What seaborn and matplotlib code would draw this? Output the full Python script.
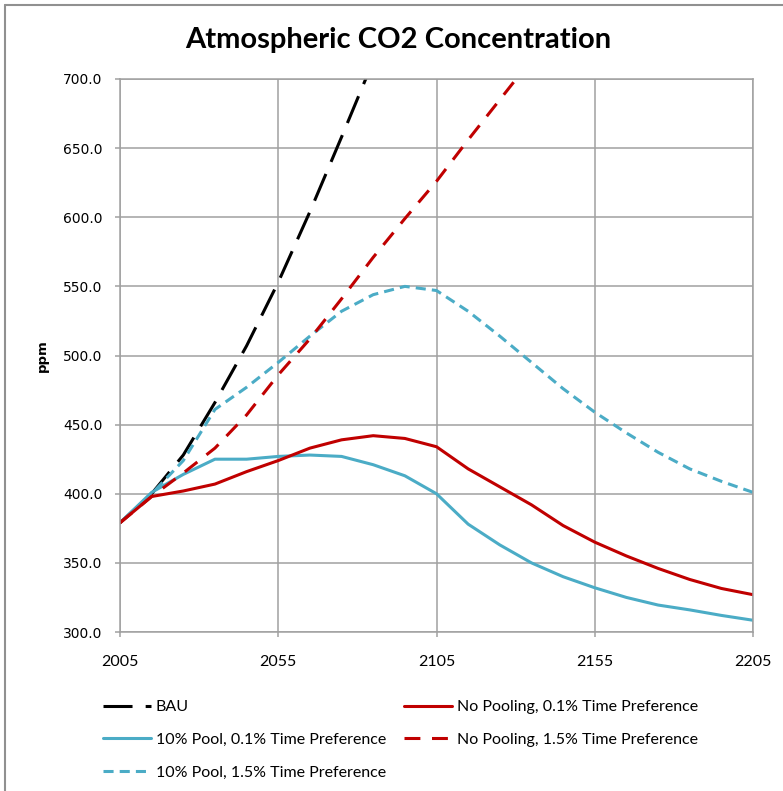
import matplotlib
matplotlib.use("Agg")
import matplotlib.pyplot as plt
import seaborn as sns
import pandas as pd
import numpy as np
from matplotlib.lines import Line2D

years = list(range(2005, 2206, 10))
bau = [379, 400, 428, 466, 507, 553, 604, 658, 713, 770]
nopool_01 = [379, 398, 402, 407, 416, 424, 433, 439, 442, 440, 434, 418, 405, 392, 377, 365, 355, 346, 338, 331.5, 327]
pool10_01 = [379, 401, 414, 425, 425, 427, 428, 427, 421, 413, 400, 378, 363, 350, 340, 332, 325, 319.5, 316, 312, 308.5]
nopool_15 = [379, 398, 415, 433, 457, 486, 512, 541, 571, 599, 626, 656, 685, 714, 743]
pool10_15 = [379, 400, 424, 461, 477, 495, 514, 532, 544, 550, 547, 532, 514, 495, 476, 459, 444, 430, 418, 409, 401]

labels = ["BAU",
          "10% Pool, 0.1% Time Preference",
          "10% Pool, 1.5% Time Preference",
          "No Pooling, 0.1% Time Preference",
          "No Pooling, 1.5% Time Preference"]
series = [bau, pool10_01, pool10_15, nopool_01, nopool_15]

rows = []
for lab, vals in zip(labels, series):
    for y, v in zip(years, vals):
        rows.append({"year": y, "ppm": v, "series": lab})
df = pd.DataFrame(rows)

BLUE = "#4BACC6"
RED = "#C00000"
palette = {labels[0]: "black", labels[1]: BLUE, labels[2]: BLUE,
           labels[3]: RED, labels[4]: RED}
dashes = {labels[0]: (9.5, 4.3), labels[1]: "", labels[2]: (3.3, 2.0),
          labels[3]: "", labels[4]: (5.2, 3.8)}

sns.set_theme(style="white")
plt.rcParams["font.family"] = ["DejaVu Sans"]
for k in ["text.color", "axes.labelcolor", "xtick.color", "ytick.color"]:
    plt.rcParams[k] = "black"

NARROW = ["Lato", "DejaVu Sans"]

fig = plt.figure(figsize=(7.83, 7.91), dpi=100)
ax = fig.add_axes([120/783, 1-632/791, (753-120)/783, (632-79)/791])

sns.lineplot(data=df, x="year", y="ppm", hue="series", style="series",
             palette=palette, dashes=dashes, linewidth=2.2, ax=ax,
             legend=False, sort=False)
for ln in ax.get_lines():
    ln.set_dash_capstyle("butt")
    ln.set_solid_capstyle("round")

ax.set_xlim(2005, 2205)
ax.set_ylim(300, 700)
ax.set_xticks([2005, 2055, 2105, 2155, 2205])
ax.set_yticks(np.arange(300, 701, 50))
ax.set_yticklabels([f"{v:.1f}" for v in np.arange(300, 701, 50)])
ax.grid(True, color="#A0A0A0", linewidth=1.1)
for s in ax.spines.values():
    s.set_color("#A0A0A0")
    s.set_linewidth(1.1)
ax.tick_params(axis="both", which="major", length=3.6, width=1.1,
               direction="out", left=True, bottom=True)
ax.tick_params(axis="both", color="#A0A0A0")
ax.tick_params(axis="y", labelsize=10, pad=9)
for t in ax.get_xticklabels():
    t.set_fontfamily(NARROW)
    t.set_fontsize(11.5)
ax.tick_params(axis="x", pad=13)
ax.set_xlabel("")
ax.set_ylabel("ppm", fontsize=9.5, fontweight="bold", labelpad=10.5)

fig.text(398/783, 1-40/791, "Atmospheric CO2 Concentration",
         ha="center", va="center", fontsize=21, fontweight="bold",
         family=NARROW)

# outer frame
fig.add_artist(Line2D([5/783, 1], [1-5/791, 1-5/791], transform=fig.transFigure,
                      color="#909090", linewidth=1.5))
fig.add_artist(Line2D([5/783, 5/783], [0, 1-5/791], transform=fig.transFigure,
                      color="#909090", linewidth=1.5))

handles = []
for lab in labels:
    d = dashes[lab]
    h = Line2D([0], [0], color=palette[lab], linewidth=2.2,
               linestyle="-" if d == "" else (0, d))
    handles.append(h)
leg = fig.legend(handles, labels, ncol=2, loc="upper left",
                 bbox_to_anchor=(103/783, 1-700/791), frameon=False,
                 prop={"family": NARROW, "size": 11.5},
                 handlelength=3.0, handletextpad=0.3, columnspacing=1.15,
                 labelspacing=1.17, borderaxespad=0, borderpad=0)

fig.savefig("out.png", dpi=100)
